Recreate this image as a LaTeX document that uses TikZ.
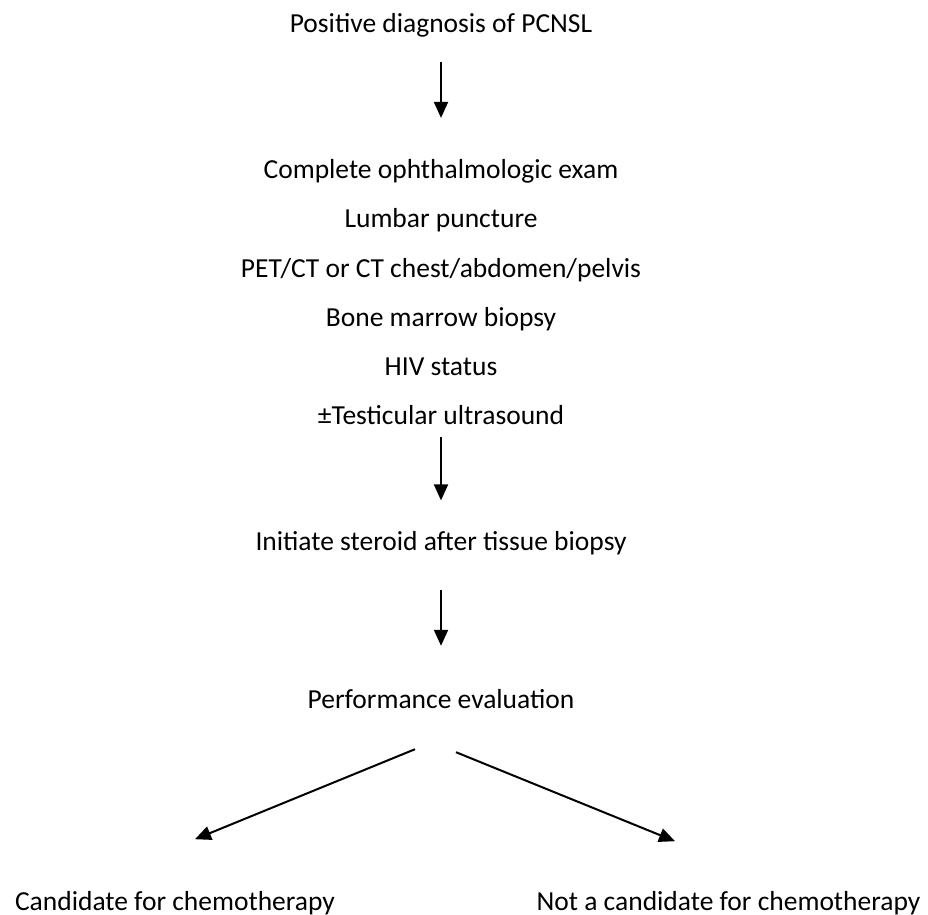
\documentclass[tikz,border=0pt]{standalone}
\usepackage{fontspec}
\setmainfont{Carlito}
\usetikzlibrary{arrows.meta,positioning}

\begin{document}
\begin{tikzpicture}[
  x=1pt, y=-1pt,
  node distance=21.9pt,
  txt/.style={inner sep=0pt, text height=20pt, text depth=7pt,
    font=\fontsize{27.5}{33}\selectfont},
  arr/.style={-{Triangle[length=16pt, width=14pt]}, line width=2pt}
]
  \useasboundingbox (0,0) rectangle (928,914);

  \node[txt, anchor=base] (diag) at (441,32) {Positive diagnosis of PCNSL};
  \node[txt, below=119pt of diag] (ophth) {Complete ophthalmologic exam};
  \node[txt, below=of ophth] (lp) {Lumbar puncture};
  \node[txt, below=of lp] (petct) {PET/CT or CT chest/abdomen/pelvis};
  \node[txt, below=of petct] (bmb) {Bone marrow biopsy};
  \node[txt, below=of bmb] (hiv) {HIV status};
  \node[txt, below=of hiv] (testis) {±Testicular ultrasound};
  \node[txt, below=98.6pt of testis] (steroid) {Initiate steroid after tissue biopsy};
  \node[txt, below=129.7pt of steroid] (perf) {Performance evaluation};
  \node[txt, below=175pt of perf, xshift=-266pt] (chemo) {Candidate for chemotherapy};
  \node[txt, below=175pt of perf, xshift=287.5pt] (nochemo) {Not a candidate for chemotherapy};

  % ends of the two branch arrows
  \coordinate[below left=34pt and 26pt of perf.south] (forkl);
  \coordinate[below right=37pt and 15pt of perf.south] (forkr);
  \coordinate[above right=51pt and 20pt of chemo.north] (tipl);
  \coordinate[above left=49pt and 53.5pt of nochemo.north] (tipr);

  \draw[arr, shorten <=22.7pt, shorten >=40.3pt] (diag) -- (ophth);
  \draw[arr, shorten <=5.3pt, shorten >=30.3pt] (testis) -- (steroid);
  \draw[arr, shorten <=31.7pt, shorten >=42pt] (steroid) -- (perf);
  \draw[arr] (forkl) -- (tipl);
  \draw[arr] (forkr) -- (tipr);
\end{tikzpicture}
\end{document}
